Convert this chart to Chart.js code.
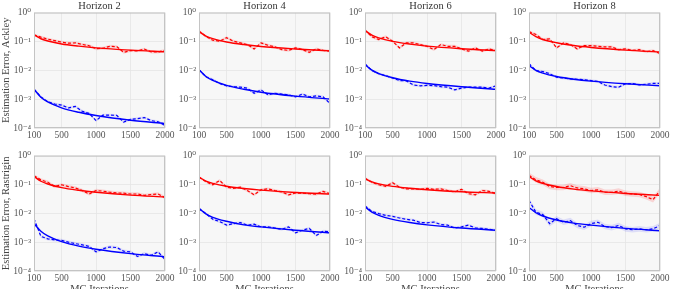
<!DOCTYPE html>
<html>
<head>
<meta charset="utf-8">
<script src="https://cdn.jsdelivr.net/npm/chart.js@4.4.1/dist/chart.umd.min.js"></script>
<style>
  html, body { margin: 0; padding: 0; background: #fff; overflow: hidden; }
  #grid { position: relative; width: 673px; height: 289px; overflow: hidden; }
  .panel { position: absolute; }
</style>
</head>
<body>
<div id="grid"></div>
<script>
const iterations = [100, 200, 300, 400, 500, 600, 700, 800, 900, 1000,
                    1100, 1200, 1300, 1400, 1500, 1600, 1700, 1800, 1900, 2000];
const fitIterations = [100, 200, 300, 500, 750, 1000, 1500, 2000];
const xTicks = [100, 500, 1000, 1500, 2000];
const yTicks = [1e-4, 1e-3, 1e-2, 1e-1, 1];
const yTickLabels = ["10\u207B\u2074", "10\u207B\u00B3", "10\u207B\u00B2", "10\u207B\u00B9", "10\u2070"];
const horizons = ["Horizon 2", "Horizon 4", "Horizon 6", "Horizon 8"];
const rowLabels = ["Estimation Error, Ackley", "Estimation Error, Rastrigin"];

// Ackley
const ackleyH2Red = [0.17, 0.141, 0.12, 0.107, 0.095, 0.087, 0.089, 0.079, 0.071, 0.056, 0.058, 0.068, 0.066, 0.042, 0.048, 0.047, 0.054, 0.043, 0.043, 0.049];
const ackleyH2Blue = [2.2e-3, 1.2e-3, 8.1e-4, 6.8e-4, 6.2e-4, 5.0e-4, 5.6e-4, 3.8e-4, 3.2e-4, 1.8e-4, 2.8e-4, 2.8e-4, 2.75e-4, 1.6e-4, 2.0e-4, 2.1e-4, 2.3e-4, 1.8e-4, 1.65e-4, 1.23e-4];
const ackleyH2RedFit = [0.17, 0.124, 0.104, 0.082, 0.069, 0.060, 0.050, 0.044];
const ackleyH2BlueFit = [2.2e-3, 1.17e-3, 8.0e-4, 5.0e-4, 3.5e-4, 2.7e-4, 1.85e-4, 1.42e-4];

const ackleyH4Red = [0.23, 0.15, 0.11, 0.102, 0.135, 0.102, 0.089, 0.078, 0.055, 0.089, 0.074, 0.065, 0.052, 0.049, 0.060, 0.052, 0.042, 0.055, 0.049, 0.046];
const ackleyH4Blue = [1.05e-2, 6.0e-3, 4.7e-3, 3.5e-3, 2.9e-3, 2.7e-3, 2.6e-3, 2.4e-3, 1.6e-3, 2.1e-3, 1.4e-3, 1.6e-3, 1.5e-3, 1.4e-3, 1.2e-3, 1.5e-3, 1.2e-3, 1.3e-3, 1.2e-3, 7.1e-4];
const ackleyH4RedFit = [0.22, 0.154, 0.125, 0.096, 0.078, 0.067, 0.055, 0.047];
const ackleyH4BlueFit = [1.05e-2, 6.1e-3, 4.5e-3, 3.0e-3, 2.2e-3, 1.74e-3, 1.27e-3, 1.01e-3];

const ackleyH6Red = [0.25, 0.145, 0.117, 0.145, 0.102, 0.060, 0.089, 0.089, 0.078, 0.068, 0.052, 0.078, 0.068, 0.068, 0.055, 0.046, 0.060, 0.046, 0.055, 0.048];
const ackleyH6Blue = [1.65e-2, 9.8e-3, 7.6e-3, 6.5e-3, 5.4e-3, 4.4e-3, 4.3e-3, 3.1e-3, 2.9e-3, 3.0e-3, 2.95e-3, 2.7e-3, 2.6e-3, 2.1e-3, 2.4e-3, 2.6e-3, 2.6e-3, 2.6e-3, 2.4e-3, 2.9e-3];
const ackleyH6RedFit = [0.24, 0.165, 0.133, 0.101, 0.081, 0.069, 0.056, 0.048];
const ackleyH6BlueFit = [1.6e-2, 1.01e-2, 7.7e-3, 5.5e-3, 4.2e-3, 3.5e-3, 2.7e-3, 2.2e-3];

const ackleyH8Red = [0.22, 0.174, 0.117, 0.123, 0.060, 0.089, 0.078, 0.055, 0.072, 0.072, 0.068, 0.065, 0.065, 0.052, 0.055, 0.049, 0.052, 0.044, 0.048, 0.038];
const ackleyH8Blue = [1.7e-2, 9.8e-3, 9.1e-3, 7.6e-3, 5.8e-3, 5.4e-3, 5.0e-3, 4.9e-3, 4.7e-3, 4.4e-3, 4.1e-3, 3.1e-3, 2.7e-3, 2.6e-3, 3.4e-3, 3.5e-3, 3.1e-3, 3.3e-3, 3.5e-3, 3.5e-3];
const ackleyH8RedFit = [0.21, 0.146, 0.117, 0.090, 0.072, 0.062, 0.050, 0.043];
const ackleyH8BlueFit = [1.45e-2, 1.0e-2, 8.0e-3, 6.1e-3, 4.9e-3, 4.2e-3, 3.4e-3, 2.9e-3];

// Rastrigin
const rastriginH2Red = [0.20, 0.145, 0.12, 0.085, 0.098, 0.085, 0.076, 0.062, 0.047, 0.062, 0.059, 0.054, 0.051, 0.050, 0.047, 0.047, 0.042, 0.045, 0.047, 0.035];
const rastriginH2Blue = [6.5e-3, 1.6e-3, 1.3e-3, 1.2e-3, 1.15e-3, 1.0e-3, 8.9e-4, 8.1e-4, 7.1e-4, 4.6e-4, 5.9e-4, 6.8e-4, 6.5e-4, 4.9e-4, 4.6e-4, 3.2e-4, 4.0e-4, 3.5e-4, 4.6e-4, 2.5e-4];
const rastriginH2RedFit = [0.19, 0.130, 0.104, 0.078, 0.063, 0.054, 0.043, 0.037];
const rastriginH2BlueFit = [4.4e-3, 2.4e-3, 1.65e-3, 1.05e-3, 7.3e-4, 5.7e-4, 4.0e-4, 3.1e-4];

const rastriginH4Red = [0.18, 0.126, 0.098, 0.138, 0.081, 0.074, 0.081, 0.062, 0.044, 0.066, 0.071, 0.062, 0.055, 0.044, 0.051, 0.050, 0.048, 0.046, 0.058, 0.048];
const rastriginH4Blue = [1.45e-2, 9.8e-3, 6.2e-3, 5.2e-3, 3.9e-3, 4.4e-3, 4.8e-3, 3.9e-3, 4.2e-3, 3.4e-3, 3.4e-3, 3.1e-3, 2.8e-3, 3.4e-3, 2.1e-3, 2.6e-3, 3.0e-3, 1.7e-3, 2.4e-3, 2.3e-3];
const rastriginH4RedFit = [0.18, 0.132, 0.110, 0.087, 0.073, 0.064, 0.053, 0.047];
const rastriginH4BlueFit = [1.5e-2, 9.6e-3, 7.3e-3, 5.3e-3, 4.0e-3, 3.4e-3, 2.6e-3, 2.1e-3];

const rastriginH6Red = [0.166, 0.12, 0.098, 0.087, 0.115, 0.081, 0.071, 0.071, 0.068, 0.074, 0.068, 0.071, 0.062, 0.055, 0.068, 0.048, 0.044, 0.062, 0.058, 0.048];
const rastriginH6Blue = [1.8e-2, 1.17e-2, 9.8e-3, 8.5e-3, 7.9e-3, 6.9e-3, 6.2e-3, 5.8e-3, 4.8e-3, 4.7e-3, 5.0e-3, 4.1e-3, 3.9e-3, 3.1e-3, 3.4e-3, 3.9e-3, 3.1e-3, 3.0e-3, 2.8e-3, 2.6e-3];
const rastriginH6RedFit = [0.16, 0.123, 0.105, 0.086, 0.074, 0.066, 0.056, 0.051];
const rastriginH6BlueFit = [1.7e-2, 1.1e-2, 8.5e-3, 6.2e-3, 4.8e-3, 4.0e-3, 3.1e-3, 2.6e-3];

const rastriginH8Red = [0.21, 0.145, 0.12, 0.085, 0.079, 0.079, 0.091, 0.076, 0.071, 0.062, 0.065, 0.054, 0.054, 0.059, 0.050, 0.047, 0.045, 0.038, 0.030, 0.062];
const rastriginH8Blue = [2.8e-2, 1.1e-2, 9.1e-3, 4.4e-3, 6.5e-3, 4.9e-3, 5.6e-3, 3.8e-3, 3.3e-3, 4.4e-3, 4.9e-3, 3.5e-3, 3.2e-3, 3.8e-3, 2.9e-3, 2.7e-3, 2.9e-3, 2.7e-3, 2.9e-3, 3.8e-3];
const rastriginH8RedFit = [0.19, 0.134, 0.110, 0.085, 0.069, 0.060, 0.049, 0.042];
const rastriginH8BlueFit = [1.6e-2, 1.05e-2, 8.1e-3, 5.9e-3, 4.6e-3, 3.9e-3, 3.0e-3, 2.5e-3];

// relative width of the shaded band around each dashed curve
const bandSpread = [0.12, 0.12, 0.12, 0.12, 0.14, 0.12, 0.12, 0.25];

const panelSeries = [
    [ackleyH2Red, ackleyH2Blue, ackleyH2RedFit, ackleyH2BlueFit],
    [ackleyH4Red, ackleyH4Blue, ackleyH4RedFit, ackleyH4BlueFit],
    [ackleyH6Red, ackleyH6Blue, ackleyH6RedFit, ackleyH6BlueFit],
    [ackleyH8Red, ackleyH8Blue, ackleyH8RedFit, ackleyH8BlueFit],
    [rastriginH2Red, rastriginH2Blue, rastriginH2RedFit, rastriginH2BlueFit],
    [rastriginH4Red, rastriginH4Blue, rastriginH4RedFit, rastriginH4BlueFit],
    [rastriginH6Red, rastriginH6Blue, rastriginH6RedFit, rastriginH6BlueFit],
    [rastriginH8Red, rastriginH8Blue, rastriginH8RedFit, rastriginH8BlueFit]
];

const FONT = "'Liberation Serif', 'DejaVu Serif', serif";
const RED = "#ff0000";
const BLUE = "#0000ff";

const plotLefts = [34, 199, 365, 529];
const axisW = 34;
const plotW = 131;
const rightPad = 14;

const plotFrame = {
    id: "plotFrame",
    beforeDraw(chart) {
        const { ctx, chartArea: a } = chart;
        ctx.save();
        ctx.fillStyle = "#f7f7f7";
        ctx.fillRect(a.left, a.top, a.right - a.left, a.bottom - a.top);
        ctx.restore();
    },
    afterDraw(chart) {
        const { ctx, chartArea: a } = chart;
        ctx.save();
        ctx.strokeStyle = "#c4c4c4";
        ctx.lineWidth = 1;
        ctx.strokeRect(a.left + 0.5, a.top + 0.5, a.right - a.left - 1, a.bottom - a.top - 1);
        ctx.restore();
    }
};

function pts(xs, ys) {
    return xs.map((x, i) => ({ x, y: ys[i] }));
}

function band(values, spread, color) {
    return [
        {
            data: pts(iterations, values.map(v => v * (1 + spread))),
            borderWidth: 0, pointRadius: 0, fill: "+1", backgroundColor: color
        },
        {
            data: pts(iterations, values.map(v => v / (1 + spread))),
            borderWidth: 0, pointRadius: 0, fill: false
        }
    ];
}

function makePanel(row, col) {
    const idx = row * 4 + col;
    const [red, blue, redFit, blueFit] = panelSeries[idx];
    const spread = bandSpread[idx];
    const isTop = row === 0;

    const canvasW = axisW + plotW + rightPad;
    const canvasH = isTop ? 142 : 152;

    const wrap = document.createElement("div");
    wrap.className = "panel";
    wrap.style.left = (plotLefts[col] - axisW) + "px";
    wrap.style.top = (isTop ? 0 : 147) + "px";
    const canvas = document.createElement("canvas");
    canvas.width = canvasW;
    canvas.height = canvasH;
    wrap.appendChild(canvas);
    document.getElementById("grid").appendChild(wrap);

    new Chart(canvas, {
        type: "line",
        data: {
            datasets: [
                ...band(red, spread, "rgba(255,0,0,0.14)"),
                ...band(blue, spread, "rgba(0,0,255,0.10)"),
                {
                    data: pts(iterations, red),
                    borderColor: RED, borderWidth: 1.2, borderDash: [3, 2],
                    pointRadius: 0, fill: false
                },
                {
                    data: pts(iterations, blue),
                    borderColor: BLUE, borderWidth: 1.2, borderDash: [3, 2],
                    pointRadius: 0, fill: false
                },
                {
                    data: pts(fitIterations, redFit),
                    borderColor: RED, borderWidth: 1.4,
                    cubicInterpolationMode: "monotone",
                    pointRadius: 0, fill: false
                },
                {
                    data: pts(fitIterations, blueFit),
                    borderColor: BLUE, borderWidth: 1.4,
                    cubicInterpolationMode: "monotone",
                    pointRadius: 0, fill: false
                }
            ]
        },
        options: {
            responsive: false,
            animation: false,
            events: [],
            layout: {
                padding: { top: isTop ? 0 : 8, right: rightPad, left: 0, bottom: 0 }
            },
            plugins: {
                legend: { display: false },
                tooltip: { enabled: false },
                title: {
                    display: isTop,
                    text: horizons[col],
                    fullSize: false,
                    color: "#333",
                    font: { family: FONT, size: 10.5, weight: "normal" },
                    padding: 0
                }
            },
            scales: {
                x: {
                    type: "linear",
                    min: 100,
                    max: 2000,
                    afterBuildTicks: s => { s.ticks = xTicks.map(v => ({ value: v })); },
                    afterFit: s => { s.height = isTop ? 14 : 28; },
                    ticks: {
                        color: "#555",
                        font: { family: FONT, size: 9.5 },
                        padding: 2,
                        maxRotation: 0,
                        autoSkip: false,
                        callback: v => String(v)
                    },
                    grid: { color: "#e4e4e4", lineWidth: 0.8, drawTicks: false },
                    border: { display: false },
                    title: {
                        display: !isTop,
                        text: "MC Iterations",
                        color: "#444",
                        font: { family: FONT, size: 10.5 },
                        padding: { top: 0, bottom: 3 }
                    }
                },
                y: {
                    type: "logarithmic",
                    min: 1e-4,
                    max: 1,
                    afterBuildTicks: s => { s.ticks = yTicks.map(v => ({ value: v })); },
                    afterFit: s => { s.width = axisW; },
                    ticks: {
                        color: "#555",
                        font: { family: FONT, size: 9.5 },
                        padding: 3,
                        callback: (v, i) => yTickLabels[i]
                    },
                    grid: { color: "#e4e4e4", lineWidth: 0.8, drawTicks: false },
                    border: { display: false },
                    title: {
                        display: col === 0,
                        text: rowLabels[row],
                        color: "#444",
                        font: { family: FONT, size: 10.5 },
                        padding: 0
                    }
                }
            }
        },
        plugins: [plotFrame]
    });
}

for (let row = 0; row < 2; row++) {
    for (let col = 0; col < 4; col++) {
        makePanel(row, col);
    }
}
</script>
</body>
</html>
